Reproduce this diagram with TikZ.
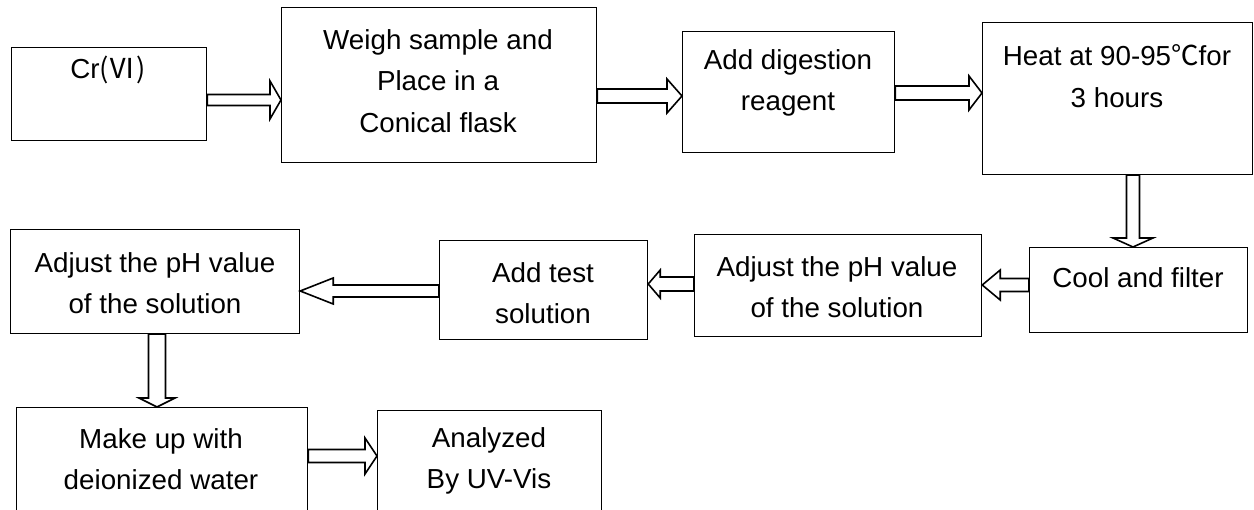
\documentclass[tikz,border=0pt]{standalone}
\usepackage{fontspec}
\setmainfont{Liberation Sans}[FakeStretch=1.01]
\newfontfamily\cjk{Noto Sans CJK SC}
\usetikzlibrary{calc}
% hollow block arrow: (start)(tip)(shaft half width:head half width:head length)
\def\hollowarrow(#1)(#2)(#3:#4:#5){%
	\coordinate (ha) at (#1);
	\coordinate (hz) at (#2);
	\coordinate (hb) at ($(hz)!#5!(ha)$);
	\draw[line width=1.6pt, fill=white, line join=miter] ($(ha)!#3!90:(hz)$) -- ($(hb)!#3!90:(hz)$) -- ($(hb)!#4!90:(hz)$) -- (hz) -- ($(hb)!#4!-90:(hz)$) -- ($(hb)!#3!-90:(hz)$) -- ($(ha)!#3!-90:(hz)$) -- cycle;}
\tikzset{
	stepbox/.style={draw, line width=1.2pt, anchor=north west, inner sep=0pt},
	steptext/.style={align=center, inner sep=0pt, font=\fontsize{27.5}{41.5}\selectfont}
}

\begin{document}
\begin{tikzpicture}[x=1pt, y=-1pt]
		%%%%% START %%%%%
		\useasboundingbox (0,0) rectangle (1254,510);
		\clip (0,0) rectangle (1254,510);
		
		% top row
		\node[stepbox, minimum width=195, minimum height=93] (cr) at (11,47) {};
		\node[stepbox, minimum width=315, minimum height=155] (weigh) at (281,7) {};
		\node[stepbox, minimum width=212, minimum height=121] (digest) at (682,31) {};
		\node[stepbox, minimum width=270, minimum height=152] (heat) at (982,22) {};
		
		% middle row
		\node[stepbox, minimum width=218, minimum height=85] (cool) at (1029,247) {};
		\node[stepbox, minimum width=287, minimum height=102] (adjustA) at (694,234) {};
		\node[stepbox, minimum width=208, minimum height=99] (addtest) at (439,240) {};
		\node[stepbox, minimum width=289, minimum height=104] (adjustB) at (10,229) {};
		
		% bottom row (cut by the frame)
		\node[stepbox, minimum width=291, minimum height=120] (makeup) at (16,407) {};
		\node[stepbox, minimum width=224, minimum height=120] (analyzed) at (377,410) {};
		
		\node[steptext] (crT) at (108,70) {Cr{\cjk(Ⅵ)}};
		\node[steptext] (weighT) at (438,81) {Weigh sample and\\Place in a\\Conical flask};
		\node[steptext] (digestT) at (788,83) {Add digestion\\reagent};
		\node[steptext] (heatT) at (1117,76) {Heat at 90-95{\cjk ℃}for\\3 hours};
		\node[steptext] (coolT) at (1138,278) {Cool and filter};
		\node[steptext] (adjustAT) at (837,287) {Adjust the pH value\\of the solution};
		\node[steptext] (addtestT) at (543,293) {Add test\\solution};
		\node[steptext] (adjustBT) at (155,283) {Adjust the pH value\\of the solution};
		\node[steptext] (makeupT) at (161,459) {Make up with\\deionized water};
		\node[steptext] (analyzedT) at (489,461) {Analyzed\\By UV-Vis};
		
		% arrows
		\hollowarrow(cr.east |- 0,100)(weigh.west |- 0,100)(5.5pt:19pt:11pt);
		\hollowarrow(weigh.east |- 0,96)(digest.west |- 0,96)(7pt:17pt:15pt);
		\hollowarrow(digest.east |- 0,93)(heat.west |- 0,93)(7pt:17pt:13pt);
		\hollowarrow(heat.south -| 1133,0)(cool.north -| 1133,0)(6.5pt:20pt:9pt);
		\hollowarrow(cool.west |- 0,285)(adjustA.east |- 0,285)(6.5pt:15pt:18pt);
		\hollowarrow(adjustA.west |- 0,284)(addtest.east |- 0,284)(7pt:14pt:12pt);
		\hollowarrow(addtest.west |- 0,291)(adjustB.east |- 0,291)(6pt:13pt:33pt);
		\hollowarrow(adjustB.south -| 157,0)(makeup.north -| 157,0)(8.5pt:18pt:9pt);
		\hollowarrow(makeup.east |- 0,456)(analyzed.west |- 0,456)(6.5pt:18pt:12pt);
		
		%%%%% END %%%%%
\end{tikzpicture}
\end{document}
